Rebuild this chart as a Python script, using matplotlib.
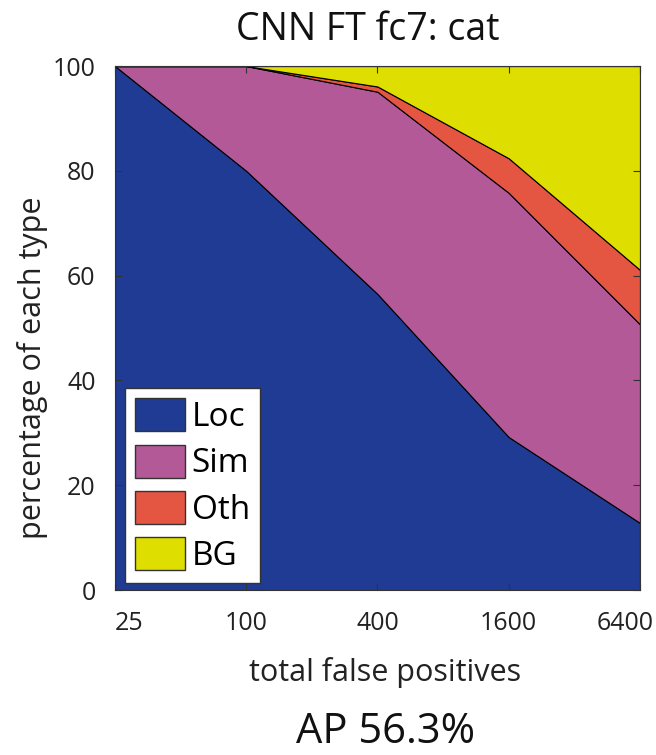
import matplotlib
matplotlib.use('Agg')
import matplotlib.pyplot as plt
import matplotlib.transforms as mtransforms
from matplotlib.patches import Patch

plt.rcParams['font.family'] = ['Open Sans', 'DejaVu Sans']

false_positives = [25, 100, 400, 1600, 6400]
tick_labels = ['25', '100', '400', '1600', '6400']
type_names = ['Loc', 'Sim', 'Oth', 'BG']
loc_pct = [100, 80, 56.5, 29.2, 12.8]
sim_pct = [0, 20, 38.6, 46.6, 37.9]
oth_pct = [0, 0, 1.0, 6.6, 10.4]
bg_pct = [0, 0, 3.9, 17.6, 38.9]
colors = ['#1f3b94', '#b35998', '#e45542', '#dede00']

fig = plt.figure(figsize=(6.56, 7.55), dpi=100)
ax = fig.add_axes([0.1753, 0.2185, 0.8003, 0.694])

ax.stackplot(false_positives, loc_pct, sim_pct, oth_pct, bg_pct,
             colors=colors, edgecolor='black', linewidth=0.8)

ax.set_xscale('log')
ax.set_xlim(25, 6400)
ax.set_ylim(0, 100)
ax.set_xticks(false_positives)
ax.set_xticklabels(tick_labels)
ax.minorticks_off()
ax.set_yticks([0, 20, 40, 60, 80, 100])
ax.tick_params(direction='in', top=True, right=True, length=5,
               labelsize=18, color='#333333', labelcolor='#222222')
ax.tick_params(axis='x', pad=15)
ax.tick_params(axis='y', pad=14)
for s in ax.spines.values():
    s.set_color('#333333')

# MATLAB keeps the end labels inside the figure
xlabels = ax.get_xticklabels()
xlabels[0].set_horizontalalignment('left')
xlabels[-1].set_transform(xlabels[-1].get_transform() +
                          mtransforms.ScaledTranslation(-0.15, 0, fig.dpi_scale_trans))

ax.set_xlabel('total false positives', fontsize=22, color='#222222')
ax.xaxis.set_label_coords(0.514, -0.128)
ax.set_ylabel('percentage of each type', fontsize=22, color='#222222')
ax.yaxis.set_label_coords(-0.128, 0.424)

fig.text(0.561, 0.947, 'CNN FT fc7: cat', fontsize=27, ha='center',
         va='baseline', color='#111111')
fig.text(0.588, 0.016, 'AP 56.3%', fontsize=30, ha='center',
         va='baseline', color='#111111')

handles = [Patch(facecolor=c, edgecolor='#333333') for c in colors]
leg = ax.legend(handles, type_names, loc='lower left', fontsize=24,
                bbox_to_anchor=(0.019, 0.013), borderaxespad=0,
                handlelength=1.5, handleheight=1.14, handletextpad=0.2,
                labelspacing=0.32, borderpad=0.3, fancybox=False,
                framealpha=1, edgecolor='#333333')

fig.savefig('out.png', dpi=100)
